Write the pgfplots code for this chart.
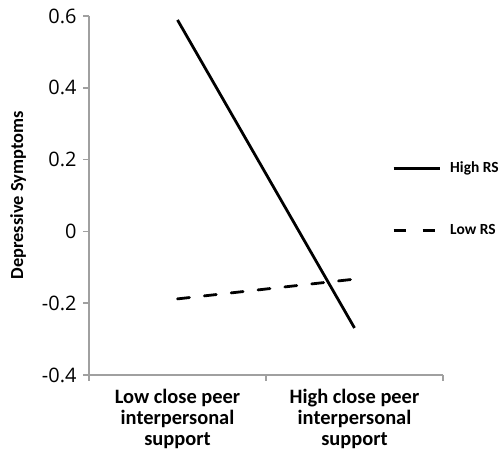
\documentclass[border=0pt]{standalone}
\usepackage{pgfplots}
\pgfplotsset{compat=1.18}
\usepackage{fontspec}
\setmainfont{Carlito}
\newfontfamily\tickfont{Open Sans}
\definecolor{axgray}{RGB}{160,160,160}
\begin{document}
\begin{tikzpicture}[x=1bp,y=1bp]
\path[use as bounding box] (0,0) rectangle (501,450);
\begin{axis}[
  at={(89bp,75bp)}, anchor=south west,
  scale only axis, width=354bp, height=359bp,
  xmin=0, xmax=2, ymin=-0.4, ymax=0.6,
  axis x line*=bottom, axis y line*=left,
  axis line style={axgray, line width=1.5pt},
  xtick={0,1,2}, xticklabels={},
  extra x ticks={0.5,1.5},
  extra x tick labels={Low close peer\\interpersonal\\support, High close peer\\interpersonal\\support},
  extra x tick style={major tick length=0pt, tick label style={font=\fontsize{20.5}{21}\selectfont\bfseries, align=center, anchor=north, yshift=-11bp}},
  ytick={-0.4,-0.2,0,0.2,0.4,0.6},
  yticklabels={-0.4,-0.2,0,0.2,0.4,0.6},
  y tick label style={font=\tickfont\fontsize{20}{22}\selectfont, xshift=-3bp},
  tick style={axgray, line width=1.5pt},
  major tick length=6bp,
  tick align=outside,
  ylabel={Depressive Symptoms},
  every axis y label/.style={at={(axis description cs:-0.2,0.5)}, rotate=90, anchor=center, font=\fontsize{18.5}{20}\selectfont\bfseries},
  clip=false,
  legend style={draw=none, fill=none, at={(rel axis cs:0.856,0.49)}, anchor=west, row sep=48bp, font=\fontsize{15.5}{17}\selectfont\bfseries, inner sep=0pt, column sep=8bp, nodes={inner sep=1pt}},
  legend cell align=left,
  legend image code/.code={\draw[#1, line width=3pt] (0bp,0bp) -- (46bp,0bp);},
]
\addplot[black, line width=2.8pt] coordinates {(0.5,0.589) (1.5,-0.269)};
\addlegendentry{High RS}
\addplot[black, line width=2.8pt, line cap=round, dash pattern=on 12bp off 15bp, legend image post style={line cap=butt, dash pattern=on 12bp off 17bp}] coordinates {(0.5,-0.188) (1.5,-0.133)};
\addlegendentry{Low RS}
\end{axis}
\end{tikzpicture}
\end{document}
